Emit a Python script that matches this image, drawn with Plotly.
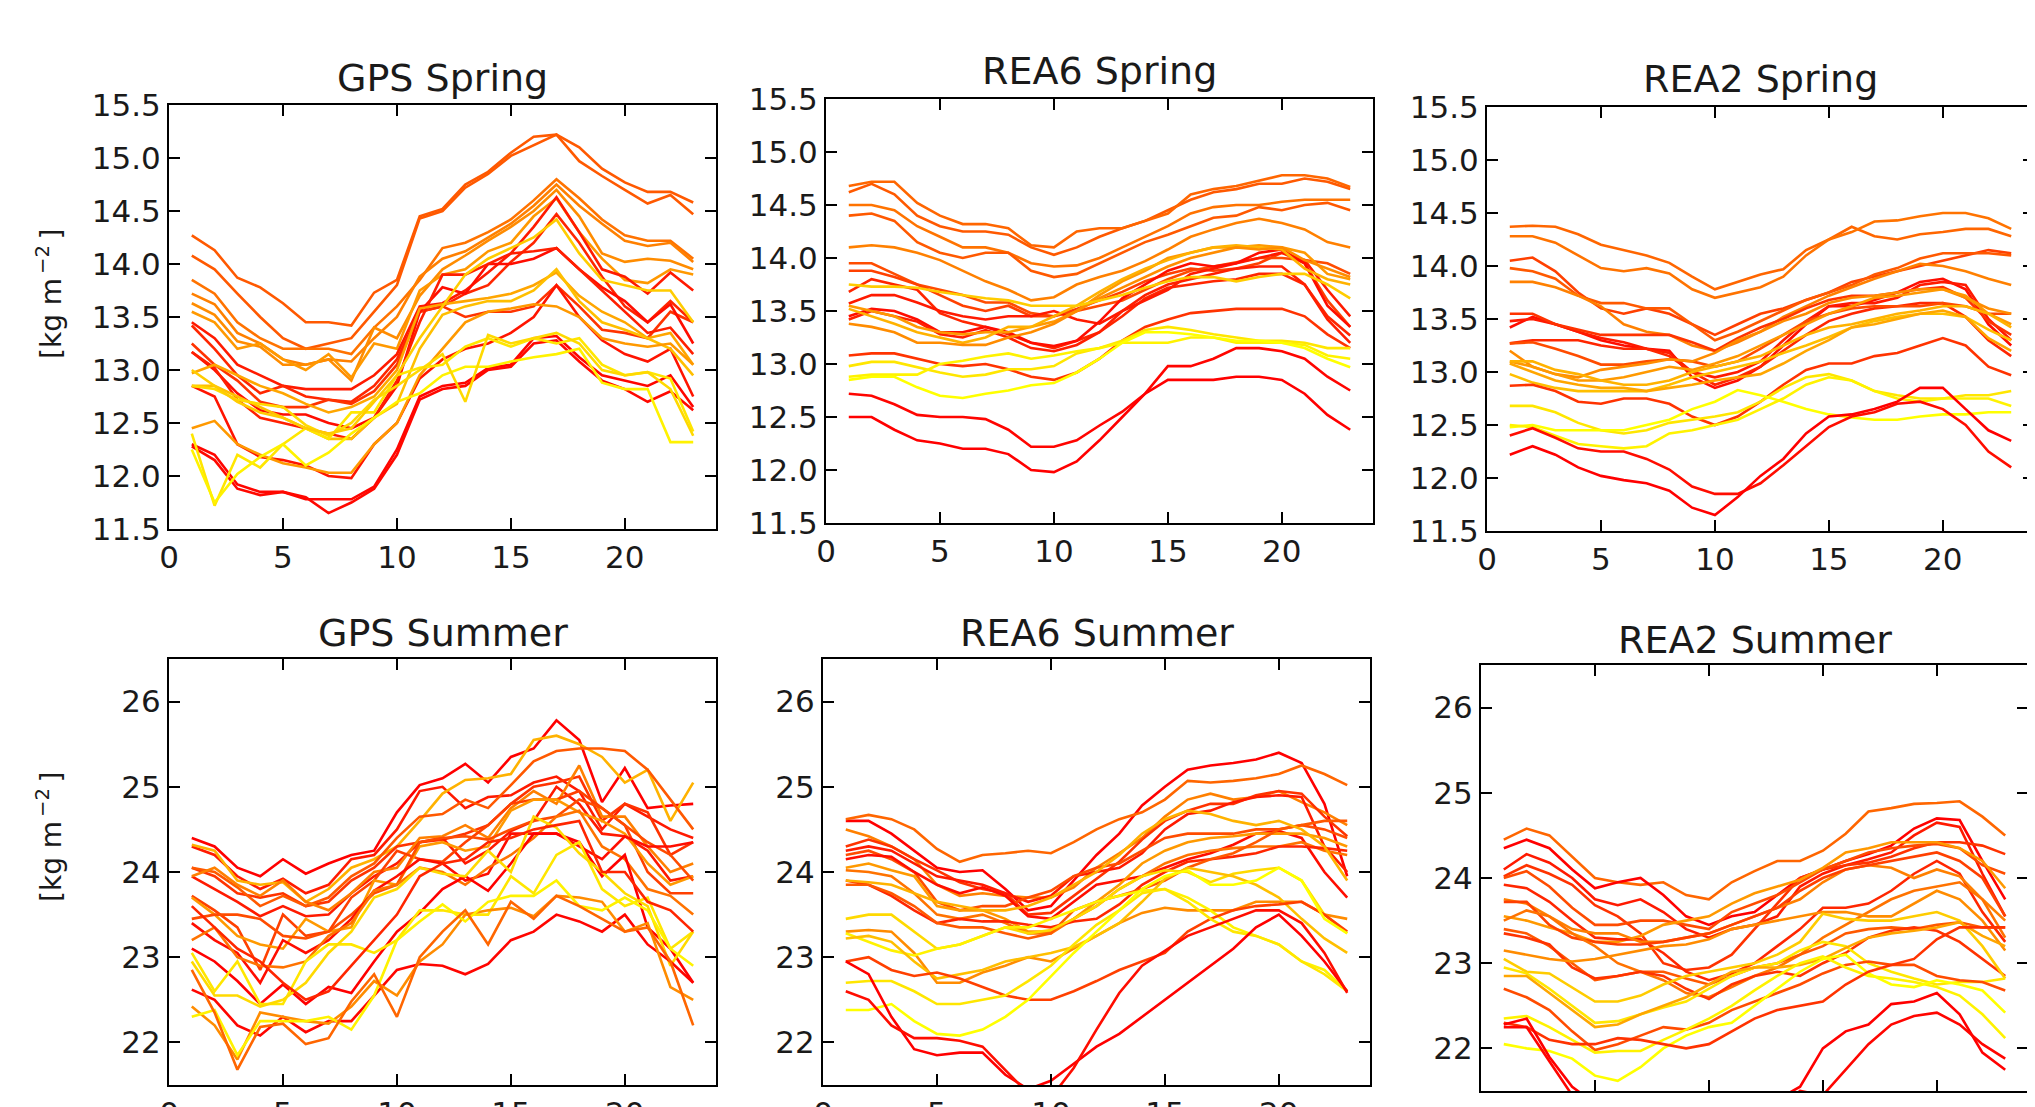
import plotly.graph_objects as go

hours = list(range(1, 24))

# ---------------- GPS Spring ----------------
gps_spring = [
    [14.27,14.13,13.87,13.78,13.63,13.45,13.45,13.42,13.73,13.85,14.45,14.52,14.75,14.87,15.05,15.2,15.22,15.1,14.9,14.77,14.68,14.68,14.58],
    [14.08,13.95,13.72,13.5,13.3,13.2,13.25,13.3,13.55,13.8,14.43,14.5,14.72,14.85,15.02,15.12,15.22,14.97,14.83,14.7,14.57,14.65,14.47],
    [13.85,13.72,13.45,13.3,13.2,13.2,13.2,13.15,13.4,13.6,13.85,14.15,14.2,14.3,14.42,14.6,14.8,14.62,14.42,14.27,14.22,14.22,14.05],
    [13.72,13.62,13.35,13.25,13.1,13.05,13.1,13.08,13.3,13.5,13.88,14.05,14.12,14.25,14.38,14.55,14.75,14.55,14.38,14.22,14.17,14.2,14.02],
    [13.63,13.52,13.27,13.22,13.05,13.05,13.1,12.9,13.4,13.3,13.7,13.95,14.08,14.22,14.35,14.5,14.7,14.45,14.1,14.02,14.05,14.03,13.95],
    [13.55,13.45,13.2,13.25,13.1,13.0,13.15,12.93,13.25,13.2,13.75,13.9,13.95,14.12,14.2,14.45,14.62,14.3,14.05,13.85,13.82,13.95,13.9],
    [13.45,13.3,13.05,12.95,12.85,12.82,12.82,12.82,12.95,13.15,13.6,13.63,13.75,13.92,14.1,14.35,14.63,14.3,13.95,13.88,13.72,13.92,13.75],
    [13.42,13.2,12.95,12.78,12.85,12.75,12.72,12.7,12.85,13.1,13.55,13.6,13.72,13.8,14.02,14.2,14.47,14.2,13.88,13.6,13.45,13.65,13.45],
    [13.25,13.05,12.9,12.7,12.65,12.65,12.72,12.68,12.8,13.05,13.55,13.6,13.5,13.55,13.55,13.6,13.8,13.6,13.38,13.35,13.3,13.55,13.45],
    [13.17,13.0,12.78,12.62,12.58,12.58,12.5,12.45,12.55,12.85,13.55,13.78,13.72,14.0,14.0,14.05,14.15,13.95,13.78,13.65,13.45,13.62,13.25],
    [13.17,13.02,12.72,12.55,12.5,12.45,12.4,12.35,12.55,12.9,13.45,13.9,13.9,14.0,14.1,14.12,14.15,13.95,13.75,13.55,13.35,13.4,13.15],
    [12.85,12.75,12.3,12.18,12.15,12.1,12.0,11.98,12.3,12.5,12.92,13.1,13.2,13.25,13.35,13.5,13.8,13.5,13.28,13.15,13.08,13.2,12.75],
    [12.3,12.2,11.92,11.85,11.85,11.78,11.78,11.78,11.9,12.25,12.75,12.85,12.88,13.02,13.05,13.3,13.32,13.12,12.95,12.9,12.85,12.95,12.65],
    [12.28,12.15,11.88,11.82,11.85,11.8,11.65,11.75,11.88,12.2,12.72,12.82,12.85,13.0,13.03,13.25,13.28,13.08,12.9,12.82,12.7,12.8,12.62],
    [12.97,13.05,12.95,12.85,12.78,12.68,12.6,12.65,12.75,13.0,13.58,13.62,13.65,13.68,13.72,13.8,13.92,13.7,13.55,13.45,13.3,13.35,13.05],
    [12.85,12.85,12.75,12.65,12.55,12.45,12.35,12.35,12.55,12.68,13.2,13.52,13.6,13.65,13.65,13.75,13.95,13.65,13.45,13.38,13.3,13.2,12.95],
    [12.45,12.52,12.3,12.2,12.12,12.08,12.03,12.03,12.3,12.5,12.95,13.2,13.45,13.55,13.58,13.62,13.6,13.5,13.3,13.25,13.22,13.25,13.05],
    [12.4,11.72,12.2,12.08,12.3,12.45,12.35,12.6,12.6,12.95,13.02,13.05,13.22,13.3,13.22,13.3,13.25,13.3,13.05,12.95,12.98,12.92,12.42],
    [12.25,11.75,12.02,12.18,12.3,12.1,12.22,12.4,12.55,12.7,12.78,12.95,13.03,13.03,13.08,13.12,13.15,13.2,12.88,12.82,12.82,12.32,12.32],
    [12.85,12.82,12.72,12.68,12.65,12.48,12.38,12.5,12.72,12.85,13.0,13.15,12.7,13.33,13.25,13.3,13.35,13.25,13.0,12.95,12.98,12.82,12.38],
    [13.0,12.85,12.7,12.6,12.55,12.45,12.4,12.45,12.7,12.95,13.3,13.6,13.9,14.05,14.15,14.25,14.42,14.1,13.85,13.8,13.75,13.75,13.45],
]
gps_spring_c = [0.35,0.35,0.45,0.5,0.55,0.6,0.1,0.15,0.2,0.05,0.12,0.08,0.02,0.03,0.65,0.75,0.6,0.9,0.95,0.85,0.8]

# ---------------- REA6 Spring ----------------
rea6_spring = [
    [14.62,14.7,14.6,14.4,14.3,14.25,14.25,14.22,14.1,14.03,14.1,14.2,14.28,14.35,14.45,14.55,14.62,14.65,14.7,14.7,14.75,14.72,14.65],
    [14.68,14.72,14.72,14.52,14.4,14.32,14.32,14.28,14.12,14.1,14.25,14.28,14.28,14.35,14.42,14.6,14.65,14.68,14.73,14.78,14.78,14.75,14.67],
    [14.5,14.5,14.45,14.3,14.2,14.1,14.1,14.05,13.95,13.92,13.93,14.0,14.1,14.2,14.3,14.42,14.48,14.5,14.5,14.53,14.55,14.55,14.55],
    [14.4,14.42,14.35,14.15,14.05,14.0,14.05,14.05,13.88,13.82,13.85,13.95,14.05,14.15,14.22,14.3,14.38,14.4,14.48,14.45,14.5,14.52,14.45],
    [14.1,14.12,14.1,14.05,13.98,13.88,13.78,13.7,13.6,13.63,13.75,13.82,13.88,13.97,14.08,14.2,14.27,14.33,14.37,14.33,14.27,14.15,14.1],
    [13.95,13.95,13.85,13.75,13.7,13.65,13.58,13.58,13.48,13.45,13.5,13.55,13.6,13.7,13.8,13.88,13.92,13.96,14.0,14.0,13.98,13.95,13.85],
    [13.88,13.88,13.82,13.75,13.65,13.55,13.5,13.55,13.45,13.45,13.52,13.6,13.68,13.78,13.85,13.9,13.88,13.9,13.95,14.05,13.95,13.6,13.35],
    [13.68,13.8,13.75,13.7,13.48,13.4,13.35,13.28,13.2,13.15,13.22,13.3,13.45,13.62,13.72,13.75,13.78,13.8,13.85,13.85,13.75,13.45,13.27],
    [13.57,13.65,13.65,13.58,13.5,13.45,13.42,13.45,13.45,13.5,13.42,13.38,13.5,13.6,13.7,13.85,13.9,13.95,14.0,14.05,13.98,13.7,13.45],
    [13.45,13.52,13.5,13.42,13.3,13.3,13.35,13.3,13.2,13.17,13.22,13.4,13.62,13.75,13.88,13.95,13.92,13.95,14.05,14.08,13.95,13.55,13.35],
    [13.42,13.5,13.45,13.4,13.28,13.25,13.32,13.25,13.15,13.12,13.18,13.3,13.5,13.65,13.75,13.8,13.85,13.9,13.92,13.92,13.75,13.42,13.2],
    [13.55,13.5,13.45,13.35,13.3,13.28,13.3,13.3,13.35,13.4,13.5,13.65,13.78,13.88,14.0,14.05,14.1,14.1,14.12,14.1,14.05,13.85,13.8],
    [13.52,13.45,13.38,13.3,13.25,13.2,13.25,13.35,13.35,13.45,13.55,13.68,13.8,13.9,13.98,14.05,14.1,14.12,14.1,14.08,13.9,13.8,13.75],
    [13.38,13.35,13.3,13.2,13.2,13.18,13.18,13.25,13.3,13.38,13.5,13.62,13.72,13.82,13.92,14.0,14.05,14.1,14.08,14.1,13.98,13.9,13.82],
    [13.75,13.73,13.73,13.72,13.68,13.65,13.62,13.6,13.55,13.55,13.55,13.6,13.65,13.72,13.78,13.82,13.82,13.78,13.82,13.85,13.85,13.75,13.62],
    [13.08,13.1,13.1,13.05,13.0,12.98,13.0,12.95,12.88,12.85,12.92,13.05,13.22,13.35,13.42,13.48,13.5,13.52,13.52,13.52,13.45,13.28,13.15],
    [12.98,13.02,13.02,12.97,12.92,12.88,12.9,12.95,12.95,12.98,13.1,13.15,13.22,13.32,13.35,13.32,13.28,13.25,13.22,13.22,13.2,13.15,13.15],
    [12.88,12.9,12.9,12.9,13.0,13.03,13.07,13.1,13.05,13.08,13.12,13.15,13.2,13.2,13.2,13.25,13.25,13.2,13.2,13.2,13.18,13.08,13.05],
    [12.85,12.88,12.88,12.78,12.7,12.68,12.72,12.75,12.8,12.82,12.92,13.05,13.2,13.3,13.3,13.28,13.25,13.22,13.22,13.2,13.15,13.05,12.97],
    [12.72,12.7,12.62,12.52,12.5,12.5,12.48,12.38,12.22,12.22,12.28,12.42,12.55,12.72,12.98,12.98,13.05,13.15,13.15,13.12,13.05,12.88,12.75],
    [12.5,12.5,12.38,12.28,12.25,12.2,12.2,12.15,12.0,11.98,12.08,12.28,12.5,12.72,12.85,12.85,12.85,12.88,12.88,12.85,12.72,12.52,12.38],
]
rea6_spring_c = [0.35,0.4,0.45,0.35,0.5,0.3,0.25,0.15,0.1,0.05,0.12,0.6,0.7,0.55,0.8,0.2,0.9,0.95,1.0,0.02,0.0]

# ---------------- REA2 Spring ----------------
rea2_spring = [
    [14.37,14.38,14.37,14.3,14.2,14.15,14.1,14.03,13.9,13.78,13.85,13.92,13.97,14.15,14.25,14.37,14.28,14.25,14.3,14.32,14.35,14.35,14.28],
    [14.28,14.28,14.22,14.1,13.98,13.95,13.98,13.93,13.78,13.7,13.75,13.8,13.9,14.1,14.25,14.32,14.42,14.43,14.47,14.5,14.5,14.45,14.35],
    [14.05,14.08,13.95,13.75,13.6,13.55,13.6,13.55,13.45,13.35,13.45,13.55,13.6,13.68,13.75,13.85,13.9,13.95,14.0,14.05,14.1,14.15,14.12],
    [13.98,13.95,13.88,13.72,13.65,13.65,13.6,13.6,13.45,13.3,13.38,13.48,13.58,13.68,13.75,13.82,13.92,13.98,14.07,14.12,14.12,14.12,14.1],
    [13.85,13.85,13.8,13.72,13.62,13.45,13.38,13.35,13.25,13.2,13.28,13.38,13.52,13.62,13.72,13.8,13.88,13.95,14.02,14.0,13.95,13.88,13.82],
    [13.42,13.52,13.45,13.38,13.3,13.25,13.22,13.2,12.95,12.85,12.92,13.05,13.25,13.45,13.62,13.62,13.68,13.75,13.85,13.88,13.78,13.45,13.25],
    [13.48,13.5,13.45,13.38,13.32,13.28,13.22,13.18,13.0,12.95,13.0,13.1,13.3,13.48,13.62,13.65,13.65,13.7,13.82,13.85,13.82,13.5,13.3],
    [13.55,13.55,13.45,13.4,13.35,13.35,13.35,13.35,13.28,13.2,13.32,13.42,13.5,13.6,13.68,13.72,13.72,13.75,13.78,13.8,13.7,13.48,13.35],
    [13.27,13.3,13.3,13.3,13.25,13.22,13.22,13.15,13.0,12.88,12.95,13.05,13.2,13.35,13.48,13.55,13.6,13.62,13.65,13.65,13.52,13.3,13.15],
    [13.27,13.28,13.22,13.15,13.07,13.07,13.1,13.12,13.1,13.05,13.1,13.22,13.35,13.48,13.55,13.6,13.62,13.62,13.62,13.65,13.62,13.55,13.55],
    [13.2,13.05,12.98,12.95,13.02,13.05,13.08,13.12,13.1,13.18,13.3,13.38,13.48,13.55,13.65,13.7,13.72,13.75,13.78,13.78,13.7,13.6,13.55],
    [13.1,13.05,12.98,12.92,12.92,12.95,13.0,13.05,13.02,13.08,13.15,13.25,13.35,13.45,13.55,13.62,13.7,13.72,13.75,13.78,13.72,13.55,13.45],
    [13.1,13.1,13.02,12.98,12.92,12.88,12.88,12.92,13.0,13.05,13.1,13.15,13.25,13.35,13.42,13.45,13.5,13.55,13.58,13.62,13.62,13.55,13.42],
    [12.98,12.9,12.85,12.82,12.82,12.82,12.82,12.88,12.95,13.0,13.05,13.1,13.18,13.25,13.33,13.42,13.48,13.52,13.55,13.55,13.52,13.4,13.3],
    [13.08,13.0,12.92,12.88,12.85,12.85,12.82,12.85,12.88,12.92,12.95,12.98,13.08,13.2,13.3,13.42,13.45,13.5,13.55,13.58,13.52,13.32,13.2],
    [12.87,12.88,12.82,12.72,12.7,12.75,12.75,12.7,12.58,12.5,12.58,12.72,12.88,13.02,13.08,13.08,13.15,13.18,13.25,13.32,13.25,13.05,12.97],
    [12.68,12.68,12.62,12.52,12.45,12.42,12.45,12.52,12.55,12.58,12.62,12.72,12.85,12.95,12.98,12.92,12.82,12.78,12.75,12.75,12.78,12.78,12.82],
    [12.48,12.5,12.45,12.45,12.45,12.45,12.5,12.55,12.65,12.72,12.83,12.78,12.72,12.65,12.6,12.57,12.55,12.55,12.58,12.6,12.6,12.62,12.62],
    [12.5,12.48,12.4,12.32,12.3,12.28,12.3,12.42,12.45,12.5,12.55,12.65,12.75,12.88,12.95,12.92,12.82,12.75,12.72,12.75,12.75,12.75,12.68],
    [12.4,12.47,12.38,12.28,12.25,12.25,12.18,12.08,11.92,11.85,11.85,11.95,12.12,12.3,12.48,12.58,12.62,12.7,12.72,12.65,12.5,12.25,12.1],
    [12.22,12.3,12.22,12.1,12.02,11.98,11.95,11.88,11.72,11.65,11.82,12.02,12.18,12.42,12.58,12.6,12.65,12.72,12.85,12.85,12.65,12.45,12.35],
]
rea2_spring_c = [0.4,0.45,0.25,0.35,0.5,0.05,0.1,0.2,0.15,0.3,0.55,0.6,0.7,0.75,0.65,0.2,0.9,1.0,0.95,0.05,0.0]

# ---------------- GPS Summer ----------------
gps_summer = [
    [24.4,24.3,24.05,23.95,24.15,23.98,24.1,24.2,24.25,24.7,25.02,25.1,25.27,25.05,25.35,25.45,25.78,25.55,24.82,25.22,24.75,24.78,24.8],
    [24.3,24.2,23.95,23.8,23.92,23.75,23.85,24.15,24.2,24.5,24.95,25.0,24.75,24.88,24.9,25.05,25.12,24.95,24.5,24.8,24.65,24.5,24.4],
    [24.32,24.25,23.9,23.85,23.88,23.65,23.8,24.05,24.15,24.3,24.6,24.92,25.08,25.1,25.15,25.55,25.6,25.5,25.35,25.05,25.2,24.6,25.05],
    [24.05,23.95,23.75,23.7,23.75,23.6,23.65,23.9,24.05,24.3,24.35,24.38,24.45,24.55,24.8,25.0,25.05,25.12,24.6,24.8,24.7,24.2,24.35],
    [24.05,24.0,23.82,23.6,23.72,23.6,23.7,23.95,24.1,24.4,24.65,24.68,24.85,24.75,25.02,25.3,25.42,25.45,25.45,25.42,25.2,24.85,24.5],
    [23.95,23.8,23.65,23.48,23.6,23.48,23.5,23.75,23.95,24.1,24.35,24.4,24.1,24.25,24.48,24.6,25.0,24.8,24.45,24.42,24.25,23.9,23.95],
    [23.95,24.05,23.85,23.72,23.9,23.65,23.55,23.75,24.0,24.05,24.4,24.42,24.55,24.4,24.75,24.95,24.8,25.25,24.65,24.65,24.3,24.0,24.1],
    [23.72,23.55,23.35,22.85,23.5,23.25,23.3,23.7,23.9,24.25,24.15,24.12,24.35,24.55,24.8,24.85,24.85,24.95,24.75,24.55,24.0,23.75,23.75],
    [23.7,23.5,23.25,23.15,23.1,23.45,23.3,23.35,23.9,23.85,24.3,24.35,24.25,24.3,24.72,24.85,24.85,24.7,24.6,24.45,24.1,23.85,23.95],
    [23.45,23.5,23.5,23.45,23.25,23.22,23.3,23.5,23.75,23.85,24.35,24.4,24.42,24.38,24.5,24.6,24.65,24.85,24.75,24.55,24.35,24.2,23.9],
    [23.4,23.2,23.05,22.7,23.2,23.05,23.2,23.45,23.78,23.95,24.15,24.1,23.9,23.98,24.45,24.45,24.45,24.3,24.15,24.42,24.3,24.3,24.35],
    [23.2,23.35,23.0,22.9,22.88,22.95,23.25,23.4,23.78,23.85,24.05,24.0,23.85,24.05,24.2,24.4,24.65,24.72,24.3,24.15,23.8,23.72,23.5],
    [23.1,22.95,22.72,22.45,22.68,22.45,22.65,22.58,22.95,23.3,23.52,23.8,23.95,23.78,24.1,24.45,24.45,24.35,23.95,24.2,23.35,23.1,22.7],
    [23.05,22.6,22.95,22.45,22.45,22.95,23.15,23.15,23.05,23.2,23.55,23.55,23.5,23.5,23.95,23.75,24.2,24.35,23.8,23.6,23.7,23.1,23.3],
    [22.95,22.55,22.55,22.42,22.5,22.7,23.05,23.3,23.7,23.8,24.05,23.98,23.95,24.25,24.0,24.65,24.52,24.22,24.0,23.75,23.6,22.9,23.3],
    [22.62,22.5,22.2,22.08,22.3,22.12,22.25,22.25,22.55,22.85,22.92,22.9,22.8,22.92,23.2,23.3,23.5,23.42,23.3,23.5,23.15,22.95,22.7],
    [22.42,22.2,21.8,22.35,22.3,22.25,22.22,22.42,22.72,22.55,22.95,23.15,23.5,23.55,23.58,23.48,23.72,23.7,23.65,23.3,23.4,22.65,22.5],
    [22.3,22.38,21.85,22.25,22.25,22.25,22.3,22.15,22.55,23.2,23.42,23.62,23.42,23.65,23.72,23.72,23.9,23.6,23.55,23.7,23.55,23.1,22.9],
    [22.85,22.35,21.68,22.18,22.22,21.98,22.05,22.48,22.8,22.3,23.0,23.3,23.55,23.15,23.65,23.45,23.72,23.6,23.45,23.3,23.35,22.95,22.2],
    [23.6,23.35,23.1,22.95,22.7,22.5,22.6,22.9,23.2,23.5,23.95,24.1,24.15,24.35,24.4,24.5,24.55,24.6,24.0,24.0,23.65,23.55,23.3],
]
gps_summer_c = [0.0,0.1,0.7,0.2,0.35,0.1,0.5,0.25,0.6,0.3,0.05,0.45,0.0,0.9,0.85,0.02,0.55,0.95,0.4,0.15]

# ---------------- REA6 Summer ----------------
rea6_summer = [
    [24.6,24.6,24.45,24.25,24.05,24.0,24.02,23.8,23.55,23.6,23.9,24.2,24.45,24.78,25.0,25.2,25.25,25.28,25.32,25.4,25.28,24.8,23.95],
    [24.62,24.67,24.62,24.5,24.27,24.12,24.2,24.22,24.25,24.22,24.35,24.5,24.62,24.7,24.85,25.07,25.05,25.07,25.1,25.15,25.25,25.15,25.02],
    [24.5,24.42,24.3,24.15,23.85,23.72,23.75,23.72,23.7,23.7,23.82,24.05,24.22,24.4,24.65,24.85,24.92,24.85,24.88,24.95,24.82,24.7,24.55],
    [24.3,24.38,24.3,24.15,24.02,23.88,23.8,23.75,23.5,23.52,23.72,23.92,24.12,24.38,24.6,24.72,24.8,24.8,24.9,24.95,24.92,24.65,24.42],
    [24.25,24.3,24.25,24.1,23.95,23.9,23.85,23.75,23.65,23.72,23.95,24.0,24.05,24.22,24.5,24.68,24.72,24.82,24.88,24.9,24.88,24.3,24.0],
    [24.2,24.25,24.15,24.0,23.65,23.55,23.6,23.6,23.7,23.78,23.95,24.05,24.1,24.25,24.4,24.45,24.45,24.45,24.5,24.5,24.55,24.5,24.4],
    [24.15,24.2,24.18,24.0,23.85,23.75,23.82,23.72,23.48,23.45,23.65,23.85,23.9,23.95,24.05,24.15,24.22,24.32,24.45,24.48,24.4,24.0,23.7],
    [24.05,24.1,24.02,23.95,23.6,23.55,23.55,23.45,23.3,23.3,23.45,23.65,23.85,24.1,24.25,24.35,24.4,24.42,24.45,24.45,24.45,24.4,24.3],
    [24.02,24.0,23.95,23.75,23.5,23.45,23.5,23.4,23.28,23.28,23.45,23.6,23.8,23.95,24.1,24.2,24.25,24.28,24.3,24.3,24.35,24.25,24.2],
    [23.9,23.85,23.72,23.55,23.4,23.45,23.42,23.42,23.38,23.35,23.42,23.45,23.62,23.85,24.0,24.12,24.15,24.18,24.22,24.3,24.3,24.28,24.25],
    [23.85,23.85,23.75,23.6,23.4,23.35,23.35,23.28,23.22,23.28,23.55,23.65,23.72,23.8,23.9,24.05,24.15,24.22,24.35,24.5,24.55,24.6,24.6],
    [23.9,23.88,23.85,23.75,23.65,23.6,23.55,23.55,23.6,23.7,23.85,24.0,24.2,24.45,24.62,24.72,24.68,24.6,24.55,24.6,24.5,24.3,23.9],
    [23.45,23.5,23.5,23.3,23.1,23.15,23.25,23.35,23.28,23.32,23.45,23.6,23.8,23.95,24.02,24.0,23.88,23.98,24.02,24.05,23.9,23.5,23.28],
    [23.3,23.32,23.3,23.05,22.7,22.7,22.82,22.9,23.0,22.95,23.1,23.25,23.4,23.52,23.58,23.55,23.55,23.55,23.65,23.65,23.65,23.5,23.45],
    [23.28,23.18,23.08,23.02,23.1,23.15,23.25,23.35,23.35,23.45,23.55,23.65,23.72,23.78,23.8,23.7,23.55,23.35,23.25,23.15,22.95,22.85,22.6],
    [23.22,23.25,23.18,22.95,22.75,22.8,22.85,22.95,23.0,23.05,23.12,23.25,23.4,23.65,23.92,24.05,24.0,23.95,23.85,23.7,23.45,23.22,23.05],
    [22.95,23.0,22.85,22.78,22.82,22.75,22.65,22.55,22.5,22.5,22.6,22.72,22.85,22.95,23.05,23.3,23.45,23.55,23.6,23.62,23.65,23.5,23.3],
    [22.7,22.72,22.72,22.6,22.45,22.45,22.5,22.55,22.72,22.9,23.15,23.38,23.55,23.75,23.8,23.65,23.45,23.3,23.25,23.15,22.95,22.8,22.6],
    [22.38,22.38,22.45,22.25,22.1,22.08,22.15,22.3,22.5,22.78,23.05,23.3,23.55,23.8,23.95,24.02,23.85,23.85,23.9,24.05,23.9,23.45,23.28],
    [22.95,22.8,22.3,21.92,21.85,21.88,21.88,21.62,21.45,21.55,21.75,21.95,22.1,22.3,22.5,22.7,22.9,23.1,23.35,23.5,23.25,22.95,22.6],
    [22.6,22.5,22.2,22.05,22.05,22.02,21.95,21.68,21.4,21.35,21.7,22.15,22.58,22.9,23.08,23.25,23.35,23.45,23.55,23.55,23.4,23.05,22.58],
]
rea6_summer_c = [0.0,0.4,0.5,0.2,0.1,0.3,0.05,0.6,0.45,0.15,0.35,0.7,0.85,0.55,0.95,0.75,0.25,0.9,1.0,0.0,0.05]

# ---------------- REA2 Summer ----------------
rea2_summer = [
    [24.45,24.58,24.5,24.25,24.0,23.95,23.92,23.95,23.8,23.75,23.95,24.08,24.2,24.2,24.32,24.52,24.78,24.82,24.87,24.88,24.9,24.72,24.5],
    [24.35,24.45,24.35,24.1,23.88,23.95,24.0,23.8,23.55,23.45,23.55,23.6,23.8,24.0,24.1,24.2,24.28,24.38,24.58,24.7,24.68,24.2,23.75],
    [24.1,24.28,24.18,24.0,23.75,23.68,23.75,23.6,23.4,23.3,23.4,23.45,23.55,23.9,24.05,24.15,24.22,24.3,24.5,24.65,24.6,24.05,23.55],
    [24.02,24.15,24.05,23.92,23.68,23.55,23.35,23.0,22.92,22.95,23.1,23.4,23.7,24.0,24.1,24.15,24.18,24.25,24.35,24.42,24.42,24.38,24.28],
    [24.0,24.08,23.9,23.65,23.45,23.45,23.5,23.5,23.45,23.4,23.6,23.7,23.8,23.95,24.1,24.2,24.3,24.35,24.38,24.4,24.35,24.15,24.05],
    [23.55,23.5,23.42,23.35,23.25,23.25,23.32,23.45,23.5,23.55,23.7,23.82,23.9,23.98,24.12,24.3,24.35,24.42,24.42,24.42,24.35,24.2,23.88],
    [23.92,23.88,23.72,23.5,23.3,23.28,23.28,23.12,22.9,22.8,22.88,23.0,23.2,23.4,23.65,23.65,23.7,23.85,24.05,24.2,24.05,23.6,23.25],
    [23.75,23.7,23.55,23.4,23.35,23.35,23.25,23.25,23.3,23.35,23.45,23.55,23.65,23.75,23.95,24.1,24.15,24.12,24.0,24.1,24.02,23.75,23.5],
    [23.72,23.72,23.45,23.3,23.25,23.22,23.22,23.25,23.3,23.35,23.45,23.55,23.65,23.85,24.0,24.1,24.15,24.2,24.25,24.3,24.2,24.0,23.55],
    [23.5,23.62,23.55,23.35,23.2,23.0,22.9,22.8,22.65,22.6,22.72,22.85,22.95,23.1,23.3,23.45,23.6,23.75,23.85,23.9,23.95,23.75,23.3],
    [23.4,23.35,23.2,23.0,22.8,22.85,22.9,22.9,22.82,22.75,22.85,22.95,23.0,23.1,23.2,23.35,23.4,23.42,23.4,23.45,23.48,23.42,23.42],
    [23.35,23.3,23.22,22.95,22.82,22.85,22.9,22.85,22.7,22.58,22.75,22.85,22.9,22.85,23.0,23.12,23.3,23.38,23.42,23.38,23.25,23.05,22.85],
    [23.15,23.1,23.05,23.02,23.05,23.1,23.15,23.2,23.22,23.28,23.4,23.45,23.5,23.55,23.6,23.6,23.55,23.55,23.7,23.85,23.75,23.5,23.15],
    [23.05,22.9,22.88,22.72,22.55,22.55,22.62,22.75,22.85,22.9,22.95,23.0,23.1,23.25,23.58,23.52,23.5,23.5,23.55,23.6,23.5,23.2,22.82],
    [22.95,22.88,22.7,22.5,22.3,22.32,22.4,22.48,22.55,22.7,22.85,22.95,23.0,23.15,23.25,23.2,23.0,22.9,22.82,22.75,22.78,22.78,22.82],
    [22.85,22.85,22.65,22.45,22.25,22.28,22.4,22.5,22.6,22.75,22.9,22.95,22.95,22.98,23.05,23.18,23.3,23.35,23.38,23.42,23.48,23.32,23.2],
    [22.7,22.6,22.45,22.2,21.98,22.05,22.15,22.25,22.22,22.3,22.45,22.55,22.65,22.75,22.88,22.98,23.02,22.98,22.98,22.85,22.8,22.78,22.68],
    [22.35,22.38,22.25,22.1,21.95,21.97,21.97,22.1,22.22,22.35,22.5,22.68,22.85,23.0,23.08,22.95,22.85,22.82,22.78,22.72,22.62,22.4,22.12],
    [22.05,22.0,21.97,21.88,21.68,21.62,21.78,22.0,22.15,22.25,22.3,22.5,22.7,22.9,23.05,23.1,22.88,22.75,22.72,22.8,22.75,22.68,22.42],
    [22.3,22.25,22.1,22.05,22.05,22.12,22.1,22.05,22.0,22.05,22.2,22.35,22.45,22.5,22.55,22.75,22.9,22.98,23.05,23.28,23.42,23.42,23.42],
    [22.28,22.35,21.9,21.55,21.35,21.1,21.0,20.9,20.9,20.95,21.0,21.2,21.4,21.55,22.0,22.2,22.28,22.52,22.55,22.65,22.4,21.95,21.75],
    [22.25,22.25,21.85,21.45,21.2,21.0,20.85,20.8,20.75,20.8,20.95,21.1,21.3,21.5,21.45,21.75,22.05,22.28,22.38,22.42,22.28,22.05,21.88],
]
rea2_summer_c = [0.4,0.0,0.1,0.2,0.3,0.6,0.15,0.5,0.25,0.45,0.35,0.2,0.55,0.8,0.9,0.65,0.3,0.95,1.0,0.2,0.0,0.02]

titles = ["GPS Spring", "REA6 Spring", "REA2 Spring", "GPS Summer", "REA6 Summer", "REA2 Summer"]
spring_ticks = [11.5, 12.0, 12.5, 13.0, 13.5, 14.0, 14.5, 15.0, 15.5]
summer_ticks = [22, 23, 24, 25, 26]
x_ticks = [0, 5, 10, 15, 20]
y_label = "[kg m<sup>\u2009\u22122</sup>\u2009]"

panels = [
    (gps_spring, gps_spring_c), (rea6_spring, rea6_spring_c), (rea2_spring, rea2_spring_c),
    (gps_summer, gps_summer_c), (rea6_summer, rea6_summer_c), (rea2_summer, rea2_summer_c),
]

# the page body adds an 8 px margin, so the figure is drawn 8 px smaller and
# every reference pixel position is shifted back by that offset
OFF = 8
W, H = 2035 - OFF, 1107 - OFF
# reference pixel boxes (left, right, top, bottom)
boxes = [
    (169, 716, 105, 529), (826, 1373, 99, 523), (1487, 2034, 107, 531),
    (169, 716, 659, 1085), (823, 1370, 659, 1085), (1481, 2028, 665, 1091),
]
title_y = [78, 71, 79, 633, 633, 640]

def px(v):
    return (v - OFF) / W

def py(v):
    return 1 - (v - OFF) / H

def autumn(c):
    return "rgb(255,%d,0)" % round(255 * c)

fig = go.Figure()
FONT = "DejaVu Sans, sans-serif"

for i, ((lines, cols), (l, r, t, b)) in enumerate(zip(panels, boxes)):
    k = "" if i == 0 else str(i + 1)
    for vals, c in zip(lines, cols):
        fig.add_trace(go.Scatter(x=hours, y=vals, mode="lines", xaxis="x" + k, yaxis="y" + k,
                                 line=dict(color=autumn(c), width=2.6), showlegend=False,
                                 hoverinfo="skip"))
    spring = i < 3
    axcommon = dict(showline=True, linecolor="black", linewidth=2, mirror="allticks",
                    ticks="inside", ticklen=11, tickwidth=1.5, tickcolor="black",
                    showgrid=False, zeroline=False, automargin=False,
                    tickfont=dict(family=FONT, size=31, color="#1a1a1a"))
    fig.layout["xaxis" + k] = dict(domain=[px(l), min(px(r), 1.0)], range=[0, 24], tickvals=x_ticks,
                                   anchor="y" + k, **axcommon)
    fig.layout["yaxis" + k] = dict(domain=[py(b), py(t)],
                                   range=[11.5, 15.5] if spring else [21.5, 26.5],
                                   tickvals=spring_ticks if spring else summer_ticks,
                                   tickformat=".1f" if spring else "d",
                                   anchor="x" + k, **axcommon)
    fig.add_annotation(text=titles[i], x=px((l + r) / 2), y=py(title_y[i]), xref="paper", yref="paper",
                       showarrow=False, xanchor="center", yanchor="middle",
                       font=dict(family=FONT, size=38, color="#1a1a1a"))

for yc in [294, 837]:
    fig.add_annotation(text=y_label, x=px(49), y=py(yc), xref="paper", yref="paper",
                       showarrow=False, textangle=-90, xanchor="center", yanchor="middle",
                       font=dict(family=FONT, size=28, color="#1a1a1a"))

fig.update_layout(width=W, height=H, margin=dict(l=0, r=0, t=0, b=0, autoexpand=False),
                  paper_bgcolor="white", plot_bgcolor="white")
fig.write_html("out.html")
